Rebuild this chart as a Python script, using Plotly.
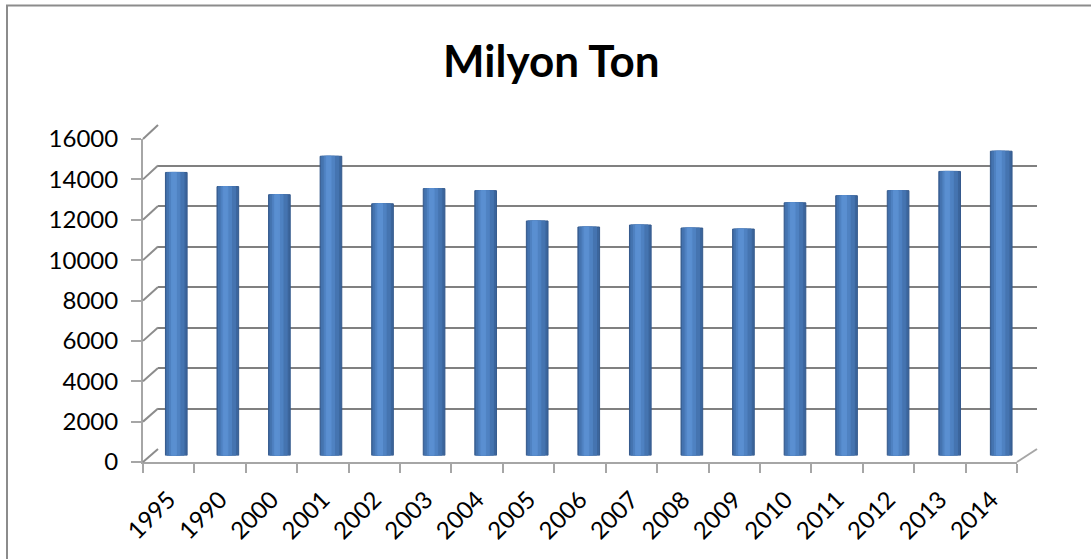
import plotly.graph_objects as go

# ---- data ----
years = ["1995", "1990", "2000", "2001", "2002", "2003", "2004", "2005", "2006",
         "2007", "2008", "2009", "2010", "2011", "2012", "2013", "2014"]
values = [14000, 13300, 12900, 14800, 12450, 13200, 13100, 11600, 11300,
          11400, 11250, 11200, 12500, 12850, 13100, 14050, 15050]
y_ticks = [0, 2000, 4000, 6000, 8000, 10000, 12000, 14000, 16000]
y_tick_labels = [str(v) for v in y_ticks]
title_text = "Milyon Ton"

W, H = 1091, 559
FONT = "Lato"


def xd(px):
    return px / W


def yd(py):
    return (H - py) / H


# pixel boxes of the pseudo-3D planes (back wall, front axes, bar mid-depth)
BACK = dict(x0=158, x1=1037, y0=125, y1=449)
FRONT = dict(x0=143, x1=1017, y0=139, y1=462)
MID = dict(x0=150.5, x1=1027, y0=132, y1=455.5)
YMAX = 16000

fig = go.Figure()

# back wall (gridlines) -> subplot xy
fig.add_trace(go.Scatter(x=[0], y=[0], mode="markers", marker=dict(opacity=0),
                         hoverinfo="skip", showlegend=False, xaxis="x", yaxis="y"))
# front axes (tick labels) -> subplot x2y2
fig.add_trace(go.Bar(x=years, y=values, marker=dict(opacity=0), hoverinfo="skip",
                     showlegend=False, xaxis="x2", yaxis="y2"))
# cylinders -> subplot x3y3 (layered bars to imitate shading)
shades = [
    dict(width=0.42, offset=-0.21, color="#3B659C", line="#34598C"),
    dict(width=0.33, offset=-0.18, color="#4574B0", line="#4574B0"),
    dict(width=0.20, offset=-0.13, color="#4F82C2", line="#4F82C2"),
    dict(width=0.09, offset=-0.09, color="#5A8FD1", line="#5A8FD1"),
]
for s in shades:
    fig.add_trace(go.Bar(
        x=list(range(len(years))), y=values, width=s["width"], offset=s["offset"],
        marker=dict(color=s["color"], line=dict(color=s["line"], width=1)),
        hoverinfo="skip", showlegend=False, xaxis="x3", yaxis="y3"))

y_font = dict(family=FONT, size=24, color="#000000")
x_font = dict(family=FONT, size=24, color="#000000")

fig.update_layout(
    width=W, height=H,
    margin=dict(l=0, r=0, t=0, b=0, autoexpand=False),
    paper_bgcolor="white", plot_bgcolor="rgba(0,0,0,0)",
    barmode="overlay",
    showlegend=False,
    xaxis=dict(domain=[xd(BACK["x0"]), xd(BACK["x1"])], anchor="y", range=[0, 1],
               visible=False, fixedrange=True, automargin=False),
    yaxis=dict(domain=[yd(BACK["y1"]), yd(BACK["y0"])], anchor="x", range=[0, YMAX],
               tickvals=y_ticks, showticklabels=False, ticks="", showline=False,
               showgrid=True, gridcolor="#808080", gridwidth=2, zeroline=False,
               automargin=False),
    xaxis2=dict(domain=[xd(FRONT["x0"]), xd(FRONT["x1"])], anchor="y2", type="category",
                range=[-0.5, len(years) - 0.5], tickangle=-45, tickfont=x_font,
                showline=True, linecolor="#a6a6a6", linewidth=2,
                ticks="outside", tickson="boundaries", ticklen=9, tickwidth=2,
                tickcolor="#a6a6a6", showgrid=False, zeroline=False, automargin=False,
                ticklabelstandoff=12),
    yaxis2=dict(domain=[yd(FRONT["y1"]), yd(FRONT["y0"])], anchor="x2", range=[0, YMAX],
                tickvals=y_ticks, ticktext=y_tick_labels, tickfont=y_font,
                showline=True, linecolor="#a6a6a6",
                linewidth=2, ticks="outside", ticklen=10, tickwidth=2, tickcolor="#a6a6a6",
                showgrid=False, zeroline=False, ticklabelstandoff=8, automargin=False),
    xaxis3=dict(domain=[xd(MID["x0"]), xd(MID["x1"])], anchor="y3",
                range=[-0.5, len(years) - 0.5], visible=False, automargin=False),
    yaxis3=dict(domain=[yd(MID["y1"]), yd(MID["y0"])], anchor="x3", range=[0, YMAX],
                visible=False, automargin=False),
)


def front_y(v):
    return FRONT["y1"] - (FRONT["y1"] - FRONT["y0"]) * v / YMAX


def back_y(v):
    return BACK["y1"] - (BACK["y1"] - BACK["y0"]) * v / YMAX


shapes = []
# left-wall diagonals connecting front tick to back gridline
for v in y_ticks:
    shapes.append(dict(type="line", xref="paper", yref="paper",
                       x0=xd(FRONT["x0"]), y0=yd(front_y(v)),
                       x1=xd(BACK["x0"]), y1=yd(back_y(v)),
                       line=dict(color="#8c8c8c", width=2)))
# right floor diagonal
shapes.append(dict(type="line", xref="paper", yref="paper",
                   x0=xd(FRONT["x1"]), y0=yd(front_y(0)),
                   x1=xd(BACK["x1"]), y1=yd(back_y(0)),
                   line=dict(color="#a6a6a6", width=2)))
# chart border
shapes.append(dict(type="rect", xref="paper", yref="paper",
                   x0=xd(7), y0=yd(5.5), x1=xd(1100), y1=yd(570),
                   line=dict(color="#8c8c8c", width=2), fillcolor="rgba(0,0,0,0)"))
fig.update_layout(shapes=shapes)

fig.add_annotation(text=f"<b>{title_text}</b>", xref="paper", yref="paper",
                   x=xd(551.5), y=yd(60), xanchor="center", yanchor="middle",
                   showarrow=False, font=dict(family=FONT, size=44, color="#000000"))

fig.write_html("out.html")
